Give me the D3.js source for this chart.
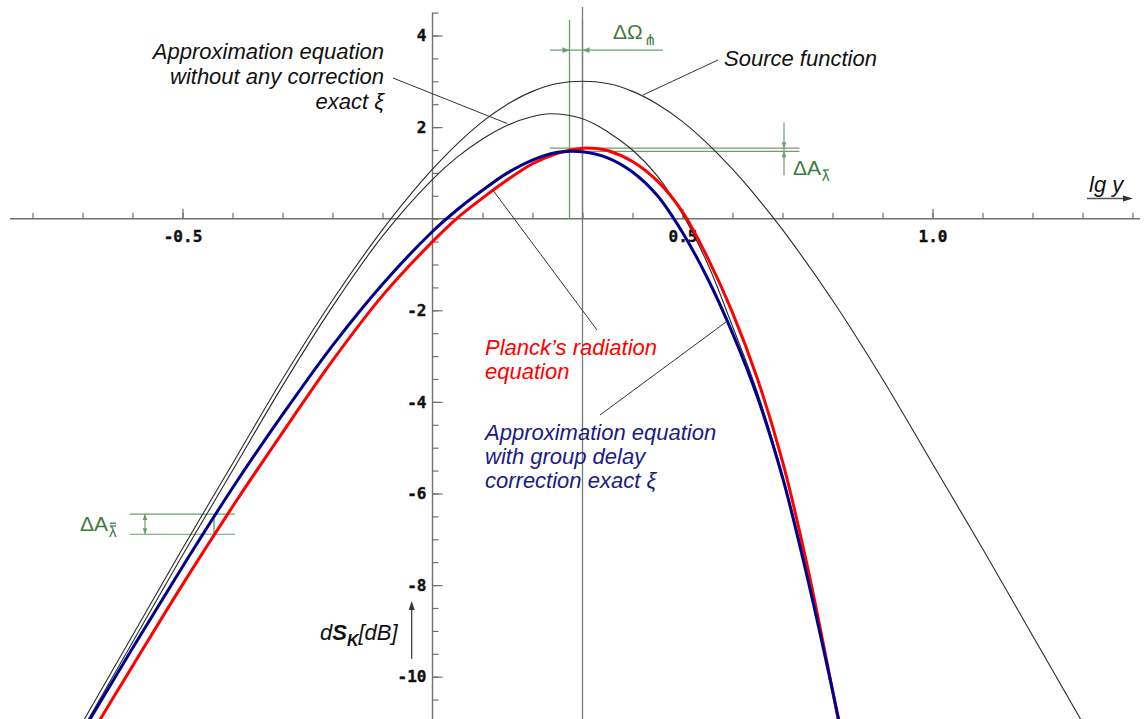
<!DOCTYPE html>
<html>
<head>
<meta charset="utf-8">
<script src="https://cdn.jsdelivr.net/npm/d3@7"></script>
<style>
  html, body { margin: 0; padding: 0; background: #fff; }
  svg { display: block; }
  .lbl { font-family: "Liberation Sans", Arial, sans-serif; font-style: italic; font-size: 22px; }
  .tick text { font-family: "DejaVu Sans Mono", "Liberation Mono", monospace; font-weight: bold; font-size: 16px; fill: #111; }
</style>
</head>
<body>
<svg id="chart" width="1146" height="719"></svg>
<script>
// ---- curve samples: lg y  ->  dS_K [dB] ----
const sourceLg = [-0.75, -0.7, -0.6, -0.5, -0.4, -0.3, -0.2, -0.1, -0.05, 0, 0.05, 0.1, 0.15, 0.2, 0.25, 0.3,
                  0.35, 0.4, 0.45, 0.5, 0.55, 0.6, 0.65, 0.7, 0.8, 0.9, 1.0, 1.1, 1.2, 1.3, 1.35];
const sourceDb = [-11.95, -11.0, -9.1, -7.2, -5.35, -3.5, -1.78, -0.24, 0.45, 1.08, 1.64, 2.12, 2.5, 2.78, 2.95, 3.0,
                  2.95, 2.78, 2.5, 2.12, 1.64, 1.08, 0.45, -0.24, -1.78, -3.5, -5.35, -7.2, -9.1, -11.0, -11.95];

const noCorrLg = [-0.75, -0.7, -0.6, -0.5, -0.4, -0.3, -0.2, -0.1, 0, 0.05, 0.1, 0.15, 0.2, 0.235, 0.3, 0.35,
                  0.4, 0.45, 0.5, 0.55, 0.6, 0.65, 0.7, 0.75, 0.8, 0.83];
const noCorrDb = [-12.1, -11.15, -9.25, -7.35, -5.5, -3.65, -1.92, -0.38, 0.86, 1.35, 1.74, 2.04, 2.23, 2.29, 2.18, 1.9,
                  1.5, 0.93, 0.1, -0.98, -2.35, -3.8, -5.6, -7.75, -10.3, -11.9];

const planckLg = [-0.72, -0.7, -0.6, -0.5, -0.4, -0.3, -0.2, -0.1, 0, 0.05, 0.1, 0.15, 0.2, 0.25, 0.3, 0.33, 0.35,
                  0.4, 0.45, 0.5, 0.55, 0.6, 0.65, 0.7, 0.75, 0.8, 0.83];
const planckDb = [-11.93, -11.57, -9.77, -7.99, -6.29, -4.67, -3.1, -1.68, -0.5, 0.02, 0.45, 0.85, 1.2, 1.43, 1.54, 1.53, 1.49,
                  1.25, 0.82, 0.15, -0.85, -2.05, -3.5, -5.3, -7.6, -10.3, -12.0];

const groupDelayLg = [-0.72, -0.7, -0.6, -0.5, -0.4, -0.3, -0.2, -0.1, 0, 0.05, 0.1, 0.15, 0.2, 0.25, 0.274, 0.3, 0.35,
                      0.4, 0.45, 0.5, 0.55, 0.6, 0.65, 0.7, 0.75, 0.8, 0.83];
const groupDelayDb = [-11.55, -11.2, -9.38, -7.6, -5.88, -4.28, -2.77, -1.43, -0.28, 0.2, 0.62, 1.0, 1.28, 1.45, 1.47, 1.46, 1.33,
                      1.02, 0.5, -0.3, -1.3, -2.5, -3.9, -5.65, -7.85, -10.3, -11.85];

// ---- axis ticks ----
const xMinorTicks = d3.range(-8, 15).map(i => i / 10).filter(v => Math.abs(v) > 1e-9);
const xLabelTicks = [-0.5, 0.5, 1.0];
const yMinorTicks = d3.range(-21, 10).map(i => i / 2);
const yLabelTicks = [-10, -8, -6, -4, -2, 2, 4];

// ---- peak / difference markers (lg y, dB) ----
const peakLg = [0.274, 0.3];           // group-delay peak, Planck peak
const peakDb = [1.47, 1.54];
const lowSideLg = -0.437;              // where the low-frequency gap is measured
const lowSideDb = [-6.45, -6.89];

const W = 1146, H = 719;
const svg = d3.select("#chart");
const x = d3.scaleLinear().domain([-0.865, 1.427]).range([0, W]);
const y = d3.scaleLinear().domain([4.775, -10.924]).range([0, H]);

const axisColor = "#707070";
const dimColor = "#6f9c6f";
const dimText = "#3f7a3f";

// ---- axes ----
const gx = svg.append("g").attr("transform", `translate(0,${y(0)})`);
gx.append("line").attr("x1", 10).attr("x2", 1140).attr("y1", 0).attr("y2", 0)
  .attr("stroke", axisColor).attr("stroke-width", 1.4);
gx.append("g").call(d3.axisBottom(x).tickValues(xMinorTicks).tickSize(-6).tickFormat(""))
  .call(g => g.select(".domain").remove());
gx.append("g").call(d3.axisBottom(x).tickValues(xLabelTicks).tickSize(-10).tickPadding(12)
    .tickFormat(d => d.toFixed(1)))
  .call(g => g.select(".domain").remove());

const gy = svg.append("g").attr("transform", `translate(${x(0)},0)`);
gy.append("line").attr("x1", 0).attr("x2", 0).attr("y1", y(4.5)).attr("y2", H)
  .attr("stroke", axisColor).attr("stroke-width", 1.4);
gy.append("g").call(d3.axisLeft(y).tickValues(yMinorTicks).tickSize(-6).tickFormat(""))
  .call(g => g.select(".domain").remove());
gy.append("g").call(d3.axisLeft(y).tickValues(yLabelTicks).tickSize(-10).tickPadding(6)
    .tickFormat(d => String(d)))
  .call(g => g.select(".domain").remove());

svg.selectAll(".tick line").attr("stroke", axisColor).attr("stroke-width", 1.2);
svg.selectAll(".tick text").attr("stroke", "#111").attr("stroke-width", 0.4);

// ---- dimension helpers ----
function arrowHead(g, px, py, dir, color, len = 7, half = 2.8) {
  let pts;
  if (dir === "up")    pts = [[px, py], [px - half, py + len], [px + half, py + len]];
  if (dir === "down")  pts = [[px, py], [px - half, py - len], [px + half, py - len]];
  if (dir === "left")  pts = [[px, py], [px + len, py - half], [px + len, py + half]];
  if (dir === "right") pts = [[px, py], [px - len, py - half], [px - len, py + half]];
  g.append("path").attr("d", "M" + pts.map(p => p.join(",")).join("L") + "Z").attr("fill", color);
}
function seg(g, x1, y1, x2, y2, color, w = 1) {
  g.append("line").attr("x1", x1).attr("y1", y1).attr("x2", x2).attr("y2", y2)
    .attr("stroke", color).attr("stroke-width", w);
}

const dims = svg.append("g");

// peak frequency marks
seg(dims, x(peakLg[0]), y(4.34), x(peakLg[0]), y(0), dimColor, 1.3);
seg(dims, x(peakLg[1]), y(4.34), x(peakLg[1]), y(0), dimColor, 1.3);
seg(svg, x(peakLg[1]), y(4.62), x(peakLg[1]), H, "#7a7a7a", 1.3);

// ΔΩ dimension
const omegaY = y(3.68);
seg(dims, x(0.235), omegaY, x(0.461), omegaY, dimColor, 1.2);
arrowHead(dims, x(peakLg[0]), omegaY, "right", dimColor);
arrowHead(dims, x(peakLg[1]), omegaY, "left", dimColor);

// ΔA at the peak
seg(dims, x(0.235), y(peakDb[1]), x(0.734), y(peakDb[1]), dimColor, 1.2);
seg(dims, x(peakLg[0]), y(peakDb[0]), x(0.734), y(peakDb[0]), dimColor, 1.2);
seg(dims, x(0.703), y(2.10), x(0.703), y(0.95), dimColor, 1.2);
arrowHead(dims, x(0.703), y(peakDb[1]), "down", dimColor, 6, 2.3);
arrowHead(dims, x(0.703), y(peakDb[0]), "up", dimColor, 6, 2.3);

// ΔA on the low-frequency flank
seg(dims, x(-0.606), y(lowSideDb[0]), x(-0.395), y(lowSideDb[0]), dimColor, 1.2);
seg(dims, x(-0.606), y(lowSideDb[1]), x(-0.395), y(lowSideDb[1]), dimColor, 1.2);
seg(dims, x(-0.575), y(lowSideDb[0]), x(-0.575), y(lowSideDb[1]), dimColor, 1.2);
arrowHead(dims, x(-0.575), y(lowSideDb[0]), "up", dimColor, 6, 2.3);
arrowHead(dims, x(-0.575), y(lowSideDb[1]), "down", dimColor, 6, 2.3);
seg(dims, x(lowSideLg), y(lowSideDb[0]), x(lowSideLg), y(lowSideDb[1]), dimColor, 1.4);

// ---- curves ----
const line = d3.line().x(d => x(d[0])).y(d => y(d[1])).curve(d3.curveCatmullRom.alpha(0.5));
const zip = (a, b) => a.map((v, i) => [v, b[i]]);
const curves = svg.append("g").attr("fill", "none");
curves.append("path").attr("d", line(zip(sourceLg, sourceDb))).attr("stroke", "#2a2a2a").attr("stroke-width", 1.1);
curves.append("path").attr("d", line(zip(noCorrLg, noCorrDb))).attr("stroke", "#2a2a2a").attr("stroke-width", 1.1);
curves.append("path").attr("d", line(zip(planckLg, planckDb))).attr("stroke", "#ff0000").attr("stroke-width", 3);
curves.append("path").attr("d", line(zip(groupDelayLg, groupDelayDb))).attr("stroke", "#00008e").attr("stroke-width", 3);

// ---- leader lines ----
const lead = svg.append("g");
seg(lead, 393, 78, x(0.149), y(2.08), "#333", 1);
seg(lead, 718, 60, x(0.421), y(2.70), "#333", 1);
seg(lead, 597, 330, x(0.121), y(0.62), "#333", 1);
seg(lead, 600, 415, x(0.589), y(-2.24), "#333", 1);

// ---- labels ----
function block(lines, px, py0, step, anchor, color) {
  const t = svg.append("text").attr("class", "lbl").attr("fill", color).attr("text-anchor", anchor);
  lines.forEach((s, i) => t.append("tspan").attr("x", px).attr("y", py0 + i * step).text(s));
}
block(["Approximation equation", "without any correction", "exact ξ"], 384, 58.5, 25, "end", "#111");
block(["Source function"], 724, 66, 24, "start", "#111");
block(["Planck’s radiation", "equation"], 485, 355, 24, "start", "#ff0000");
block(["Approximation equation", "with group delay", "correction exact ξ"], 485, 440, 24, "start", "#1a1a8a");

// axis titles
const yt = svg.append("text").attr("class", "lbl").attr("x", 320).attr("y", 640).attr("fill", "#111");
yt.append("tspan").text("d");
yt.append("tspan").attr("font-weight", "bold").text("S");
yt.append("tspan").attr("font-weight", "bold").attr("font-size", "16px").attr("dy", 6).text("K");
yt.append("tspan").attr("dy", -6).text("[dB]");
seg(svg, 411.7, 659, 411.7, 608, "#333", 1.2);
arrowHead(svg, 411.7, 601, "up", "#333", 9, 3);

svg.append("text").attr("class", "lbl").attr("x", 1089).attr("y", 192).attr("font-size", "23px").attr("fill", "#111").text("lg y");
seg(svg, 1087, 198.5, 1125, 198.5, "#555", 1.4);
arrowHead(svg, 1133, 198.5, "right", "#333", 10, 3);

// difference labels
function deltaLabel(px, py, main, sub, bars) {
  const t = svg.append("text").attr("x", px).attr("y", py).attr("fill", dimText)
    .attr("font-family", "'Liberation Sans', Arial, sans-serif").attr("font-size", "21px");
  t.append("tspan").text(main);
  const s = t.append("tspan").attr("font-size", "15px").attr("dy", 6).attr("dx", 1).text(sub);
  if (bars) {
    const bb = s.node().getBBox();
    for (let i = 0; i < bars; i++) {
      const by = bb.y + 3.5 - i * 2.8;
      seg(svg, bb.x + 1, by, bb.x + bb.width - 1, by, dimText, 1.3);
    }
  }
}
deltaLabel(613, 38.5, "ΔΩ", "⋔", 0);
deltaLabel(793, 174.5, "ΔA", "λ", 1);
deltaLabel(80, 530.5, "ΔA", "λ", 2);
</script>
</body>
</html>
